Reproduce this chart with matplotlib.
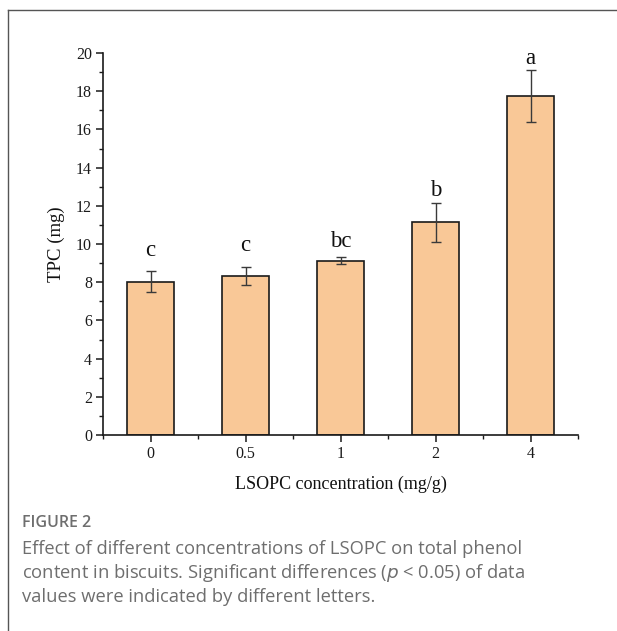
import matplotlib
matplotlib.use("Agg")
import matplotlib.pyplot as plt
from matplotlib.lines import Line2D
import numpy as np

# Total phenol content of biscuits by LSOPC dose
concentrations = ["0", "0.5", "1", "2", "4"]
tpc_mean = [8.02, 8.34, 9.13, 11.13, 17.74]
tpc_err = [0.55, 0.48, 0.19, 1.00, 1.35]
letters = ["c", "c", "bc", "b", "a"]
letter_y = [9.35, 9.65, 9.85, 12.5, 19.45]

caption_title = "FIGURE 2"
caption_lines = [
    "Effect of different concentrations of LSOPC on total phenol",
    "content in biscuits. Significant differences ($\\it{p}$ < 0.05) of data",
    "values were indicated by different letters.",
]

W, H = 617, 631
fig = plt.figure(figsize=(W / 100, H / 100), dpi=100)

serif = ["Liberation Serif", "DejaVu Serif"]

ax = fig.add_axes([103 / W, 1 - 435 / H, (578 - 103) / W, (435 - 53) / H])
x = np.arange(len(concentrations))
ax.bar(x, tpc_mean, width=0.5, color="#F9C897", edgecolor="#1a1a1a", linewidth=1.2, zorder=2)
ax.errorbar(x, tpc_mean, yerr=tpc_err, fmt="none", ecolor="#3a3a3a",
            elinewidth=1.0, capsize=3.5, capthick=1.0, zorder=3)
for xi, lab, ly in zip(x, letters, letter_y):
    ax.text(xi, ly, lab, ha="center", va="baseline", fontsize=16.5, family=serif, color="#111111")

ax.set_xlim(-0.5, 4.5)
ax.set_ylim(0, 20)
ax.set_xticks(x)
ax.set_xticklabels(concentrations)
ax.set_xticks(np.arange(-0.5, 4.6, 1.0), minor=True)
ax.set_yticks(np.arange(0, 21, 2))
ax.set_yticks(np.arange(0, 21, 1), minor=True)

for s in ["top", "right"]:
    ax.spines[s].set_visible(False)
for s in ["left", "bottom"]:
    ax.spines[s].set_linewidth(1.2)
    ax.spines[s].set_color("#1a1a1a")

ax.tick_params(axis="both", which="major", direction="out", length=5, width=1.1,
               labelsize=11.5, colors="#1a1a1a", pad=3)
ax.tick_params(axis="both", which="minor", direction="out", length=3, width=1.0, colors="#1a1a1a")
for lbl in ax.get_xticklabels() + ax.get_yticklabels():
    lbl.set_family(serif)

ax.set_xlabel("LSOPC concentration (mg/g)", fontsize=13, family=serif, labelpad=10, color="#111111")
ax.set_ylabel("TPC (mg)", fontsize=13.5, family=serif, labelpad=8, color="#111111")

# Surrounding frame lines
fig.add_artist(Line2D([8 / W, 8 / W], [0, 1 - 10 / H], color="#555555", linewidth=1.0,
                      transform=fig.transFigure))
fig.add_artist(Line2D([8 / W, 1], [1 - 10 / H, 1 - 10 / H], color="#555555", linewidth=1.0,
                      transform=fig.transFigure))

# Caption
fig.text(22 / W, 1 - 523 / H, caption_title, fontsize=11.5, family="Open Sans", color="#6e6e6e",
         va="center", ha="left", weight="semibold")
for i, line in enumerate(caption_lines):
    fig.text(22 / W, 1 - (549 + 24 * i) / H, line, fontsize=13.2, family="Open Sans",
             color="#6e6e6e", va="center", ha="left")

fig.savefig("out.png", dpi=100)
